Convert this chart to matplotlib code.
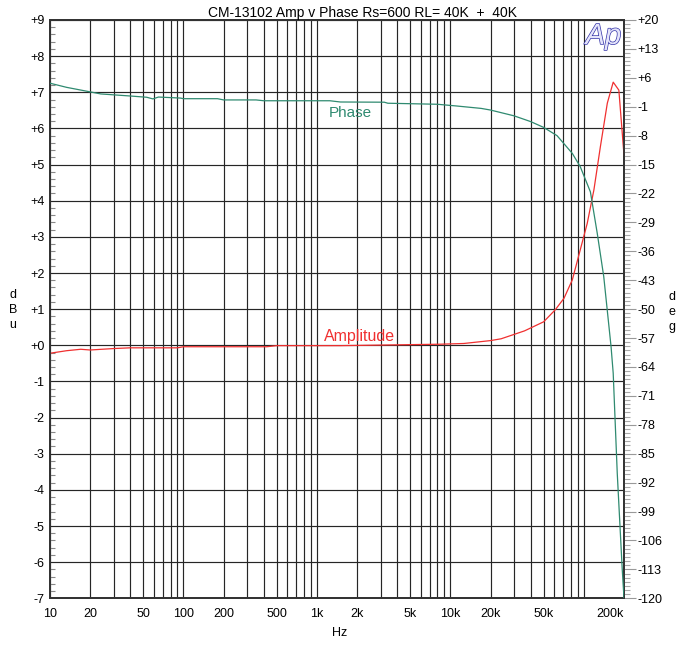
import matplotlib
matplotlib.use("Agg")
import matplotlib.pyplot as plt
import matplotlib.patheffects as pe
from matplotlib.ticker import FixedLocator, LogLocator, MultipleLocator, NullFormatter

plt.rcParams['font.family'] = ['Liberation Sans', 'DejaVu Sans']
plt.rcParams['axes.unicode_minus'] = False

# amplitude (dBu, left axis)
amp_freq = [10, 13.3, 17, 20, 30, 40, 90, 100, 420, 500, 1500, 8400, 12600,
            20000, 24000, 36000, 50000, 61000, 71000, 82000, 94000, 106000,
            119000, 133000, 150000, 166000, 183000, 200000]
amp_dbu = [-0.22, -0.15, -0.11, -0.13, -0.09, -0.07, -0.07, -0.04, -0.04, -0.01,
           -0.01, 0.03, 0.05, 0.13, 0.18, 0.40, 0.65, 0.98, 1.30, 1.81, 2.64,
           3.37, 4.30, 5.49, 6.70, 7.28, 7.06, 5.26]

# phase (deg, right axis)
ph_freq = [10, 13.3, 20, 24, 40, 53, 59, 65, 95, 100, 180, 200, 350, 400, 1250,
           1500, 3200, 3400, 8000, 11000, 17000, 20000, 30000, 40000, 50000,
           63000, 82000, 94000, 112000, 126000, 141000, 160000, 166000, 178000,
           194000, 200000]
ph_deg = [4.7, 3.7, 2.6, 2.1, 1.6, 1.3, 0.9, 1.35, 1.1, 0.95, 0.95, 0.65, 0.65,
          0.45, 0.45, 0.15, 0.1, -0.15, -0.4, -0.8, -1.4, -1.8, -3.2, -4.6,
          -6.0, -8.0, -12.3, -15.5, -21.6, -31.6, -42.1, -59.1, -65.5, -89.7,
          -113, -120]

x_ticks = [10, 20, 50, 100, 200, 500, 1000, 2000, 5000, 10000, 20000, 50000, 200000]
x_labels = ['10', '20', '50', '100', '200', '500', '1k', '2k', '5k', '10k', '20k', '50k', '200k']
dbu_ticks = list(range(-7, 10))
deg_ticks = list(range(-120, 21, 7))

fig = plt.figure(figsize=(6.8, 6.45), dpi=100)
ax = fig.add_axes([50/680, 46.7/645, 574/680, 578.3/645])
ax2 = ax.twinx()

ax.set_xscale('log')
ax.set_xlim(10, 200000)
ax.set_ylim(-7, 9)
ax2.set_ylim(-120, 20)

# grid
ax.xaxis.set_major_locator(FixedLocator(x_ticks))
ax.set_xticklabels(x_labels)
ax.xaxis.set_minor_locator(LogLocator(base=10, subs=range(1, 10), numticks=20))
ax.xaxis.set_minor_formatter(NullFormatter())
ax.grid(True, which='both', axis='x', color='#262626', lw=0.85)
ax.grid(True, which='major', axis='y', color='#262626', lw=0.85)
ax.set_axisbelow(True)

ax.set_yticks(dbu_ticks)
ax.set_yticklabels([('+%d' % v) if v >= 0 else str(v) for v in dbu_ticks])
ax.yaxis.set_minor_locator(MultipleLocator(0.2))
ax.tick_params(axis='x', which='both', length=0, pad=7, labelsize=9)
ax.tick_params(axis='y', which='major', length=0, pad=4, labelsize=9)
ax.tick_params(axis='y', which='minor', direction='in', length=3.6, color='#888888', width=0.8)
lbls = ax.get_xticklabels()
lbls[-1].set_horizontalalignment('right')

ax2.set_yticks(deg_ticks)
ax2.set_yticklabels([('+%d' % v) if v >= 0 else str(v) for v in deg_ticks])
ax2.yaxis.set_minor_locator(MultipleLocator(1))
ax2.tick_params(axis='y', which='major', direction='out', length=8.6, pad=1,
                color='#999999', width=0.8, labelsize=9)
ax2.tick_params(axis='y', which='minor', direction='out', length=4.3,
                color='#aaaaaa', width=0.8)

for sp in list(ax.spines.values()) + list(ax2.spines.values()):
    sp.set_color('#333333')
    sp.set_linewidth(1.3)

ax.plot(amp_freq, amp_dbu, color='#f03030', lw=0.9, zorder=3)
ax2.plot(ph_freq, ph_deg, color='#2f8a70', lw=0.9, zorder=3)

ax.text(0.524, 0.839, 'Phase', transform=ax.transAxes, color='#2f8a70',
        fontsize=11, ha='center', va='center')
ax.text(0.540, 0.452, 'Amplitude', transform=ax.transAxes, color='#f03030',
        fontsize=11.5, ha='center', va='center')

# Ap logo, outlined letters
logo = ax.text(0.964, 0.9585, 'Ap', transform=ax.transAxes, fontsize=21,
               style='italic', color='#e4e4fa', ha='center', va='baseline', zorder=5)
logo.set_path_effects([pe.Stroke(linewidth=1.0, foreground='#3232a8'), pe.Normal()])

fig.text(362.5/680, 1 - 12.5/645, 'CM-13102 Amp v Phase Rs=600 RL= 40K  +  40K',
         fontsize=10, ha='center', va='center')
fig.text(340/680, 1 - 633/645, 'Hz', fontsize=9, ha='center', va='center')
fig.text(13/680, 1 - 310/645, 'd\nB\nu', fontsize=9, ha='center', va='center',
         linespacing=1.3)
fig.text(672/680, 1 - 312/645, 'd\ne\ng', fontsize=9, ha='center', va='center',
         linespacing=1.3)

fig.savefig('out.png', dpi=100)
